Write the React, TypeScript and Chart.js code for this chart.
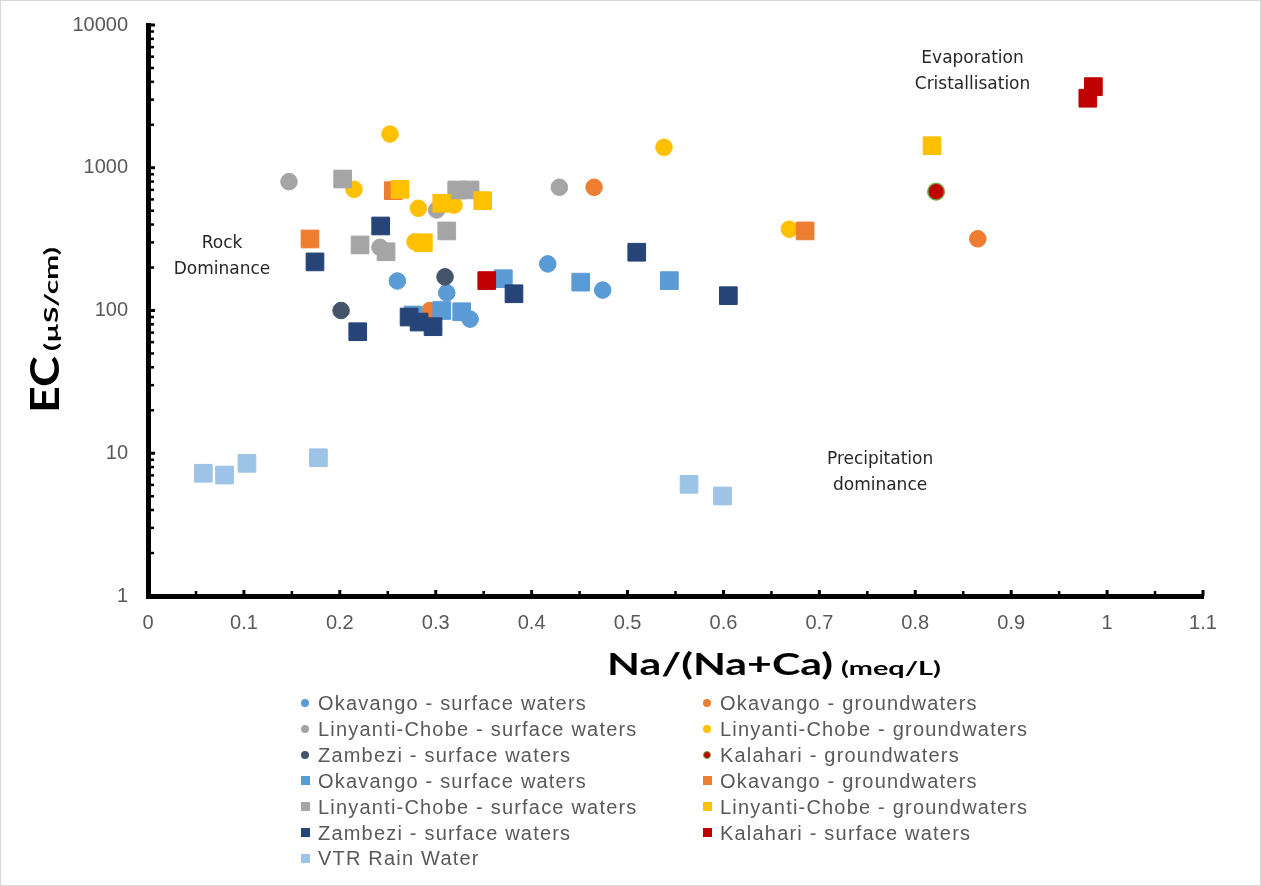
import React, { useEffect, useRef } from 'react';
import { Chart, registerables } from 'chart.js';

Chart.register(...registerables);

// ---- tick values ----
const X_TICKS = [0, 0.1, 0.2, 0.3, 0.4, 0.5, 0.6, 0.7, 0.8, 0.9, 1, 1.1];
const Y_TICKS = [1, 10, 100, 1000, 10000];

// ---- series values: [Na/(Na+Ca), EC] ----
const OKA_SW_CIRCLES: [number, number][] = [[0.26, 161], [0.3115, 133], [0.4168, 212], [0.4741, 139], [0.3358, 87]];
const OKA_GW_CIRCLES: [number, number][] = [[0.294, 100], [0.4651, 730], [0.8652, 318]];
const LIN_SW_CIRCLES: [number, number][] = [[0.147, 799], [0.301, 506], [0.2419, 277], [0.4289, 730]];
const LIN_GW_CIRCLES: [number, number][] = [[0.2523, 1722], [0.2148, 706], [0.2819, 520], [0.3191, 548], [0.2784, 303], [0.538, 1390], [0.6687, 371]];
const ZAM_SW_CIRCLES: [number, number][] = [[0.2013, 100], [0.3097, 172]];
const KAL_GW_CIRCLES: [number, number][] = [[0.8217, 680]];
const OKA_SW_SQUARES: [number, number][] = [[0.2763, 93], [0.3063, 100], [0.3271, 98], [0.3705, 167], [0.4512, 158], [0.5436, 162]];
const OKA_GW_SQUARES: [number, number][] = [[0.1689, 317], [0.2558, 691], [0.6851, 361]];
const LIN_SW_SQUARES: [number, number][] = [[0.203, 834], [0.3219, 699], [0.3358, 699], [0.3115, 361], [0.2211, 288], [0.2482, 258]];
const LIN_GW_SQUARES: [number, number][] = [[0.2628, 706], [0.3063, 564], [0.349, 588], [0.2871, 298], [0.8175, 1427]];
const ZAM_SW_SQUARES: [number, number][] = [[0.1741, 219], [0.2426, 391], [0.2187, 71], [0.2722, 90], [0.2826, 83], [0.2972, 77], [0.3816, 131], [0.5096, 256], [0.6051, 127]];
const KAL_SW_SQUARES: [number, number][] = [[0.3532, 162], [0.9799, 3070], [0.9857, 3700]];
const VTR_RAIN: [number, number][] = [[0.0577, 7.24], [0.0798, 7.04], [0.1032, 8.5], [0.1777, 9.3], [0.5641, 6.06], [0.599, 5.02]];

// ---- series labels ----
const LABELS = [
  'Okavango - surface waters', 'Okavango - groundwaters',
  'Linyanti-Chobe - surface waters', 'Linyanti-Chobe - groundwaters',
  'Zambezi - surface waters', 'Kalahari - groundwaters',
  'Okavango - surface waters', 'Okavango - groundwaters',
  'Linyanti-Chobe - surface waters', 'Linyanti-Chobe - groundwaters',
  'Zambezi - surface waters', 'Kalahari - surface waters',
  'VTR Rain Water',
];
const SERIES_DATA = [
  OKA_SW_CIRCLES, OKA_GW_CIRCLES, LIN_SW_CIRCLES, LIN_GW_CIRCLES, ZAM_SW_CIRCLES, KAL_GW_CIRCLES,
  OKA_SW_SQUARES, OKA_GW_SQUARES, LIN_SW_SQUARES, LIN_GW_SQUARES, ZAM_SW_SQUARES, KAL_SW_SQUARES, VTR_RAIN,
];

// ---- styles ----
const STYLES = [
  { color: '#5B9BD5', shape: 'circle' },
  { color: '#ED7D31', shape: 'circle' },
  { color: '#A5A5A5', shape: 'circle' },
  { color: '#FFC000', shape: 'circle' },
  { color: '#44546A', shape: 'circle' },
  { color: '#C00000', shape: 'circle', border: '#70AD47' },
  { color: '#5B9BD5', shape: 'rect' },
  { color: '#ED7D31', shape: 'rect' },
  { color: '#A5A5A5', shape: 'rect' },
  { color: '#FFC000', shape: 'rect' },
  { color: '#264478', shape: 'rect' },
  { color: '#C00000', shape: 'rect' },
  { color: '#9DC3E6', shape: 'rect' },
];

const ANNOTATIONS = [
  { lines: ['Rock', 'Dominance'], x: 0.0772, y: 274 },
  { lines: ['Evaporation', 'Cristallisation'], x: 0.8597, y: 5417 },
  { lines: ['Precipitation', 'dominance'], x: 0.7633, y: 8.41 },
];

const TICK_FONT = '"Liberation Sans", Arial, sans-serif';

function drawStretched(ctx: CanvasRenderingContext2D, text: string, font: string, width: number) {
  ctx.font = font;
  const w = ctx.measureText(text).width;
  ctx.save();
  ctx.scale(width / w, 1);
  ctx.textAlign = 'left';
  ctx.textBaseline = 'alphabetic';
  ctx.fillText(text, 0, 0);
  ctx.restore();
}

const decorPlugin = {
  id: 'decor',
  beforeDatasetsDraw(chart: any) {
    const { ctx, chartArea, scales } = chart;
    const xs = scales.x;
    const ys = scales.y;
    ctx.save();
    ctx.fillStyle = '#000';
    // y tick marks (inside)
    const ax = chartArea.left;
    Y_TICKS.forEach((v) => {
      const py = ys.getPixelForValue(v);
      ctx.fillRect(ax - 2, py - 1.5, 9, 3);
    });
    for (let i = 0; i < Y_TICKS.length - 1; i++) {
      for (let m = 2; m <= 9; m++) {
        const py = ys.getPixelForValue(Y_TICKS[i] * m);
        ctx.fillRect(ax, py - 1.25, 6, 2.5);
      }
    }
    // x tick marks (inside)
    const ay = chartArea.bottom;
    X_TICKS.forEach((v) => {
      const px = xs.getPixelForValue(v);
      ctx.fillRect(px - 1.5, ay - 6, 3, 6);
    });
    for (let i = 0; i < X_TICKS.length - 1; i++) {
      const px = xs.getPixelForValue((X_TICKS[i] + X_TICKS[i + 1]) / 2);
      ctx.fillRect(px - 1.25, ay - 5, 2.5, 5);
    }
    ctx.restore();
  },
  afterDraw(chart: any) {
    const { ctx, scales } = chart;
    const xs = scales.x;
    const ys = scales.y;
    ctx.save();
    // annotations
    ctx.fillStyle = '#262626';
    ctx.font = '17px "DejaVu Sans", sans-serif';
    ctx.textAlign = 'center';
    ctx.textBaseline = 'alphabetic';
    ANNOTATIONS.forEach((a) => {
      const px = xs.getPixelForValue(a.x);
      const py = ys.getPixelForValue(a.y);
      a.lines.forEach((line, i) => ctx.fillText(line, px, py + i * 26));
    });
    // x axis title
    ctx.fillStyle = '#000';
    ctx.save();
    ctx.translate(607, 675);
    drawStretched(ctx, 'Na/(Na+Ca)', 'bold 31px Lato, "Liberation Sans", sans-serif', 226);
    ctx.restore();
    ctx.save();
    ctx.translate(841, 675);
    drawStretched(ctx, '(meq/L)', 'bold 19px Lato, "Liberation Sans", sans-serif', 100);
    ctx.restore();
    // y axis title (rotated)
    ctx.save();
    ctx.translate(59, 413);
    ctx.rotate(-Math.PI / 2);
    drawStretched(ctx, 'EC', 'bold 40px Lato, "Liberation Sans", sans-serif', 57);
    ctx.restore();
    ctx.save();
    ctx.translate(58, 351);
    ctx.rotate(-Math.PI / 2);
    drawStretched(ctx, '(µS/cm)', 'bold 19px Lato, "Liberation Sans", sans-serif', 104);
    ctx.restore();
    ctx.restore();
  },
};

export default function App() {
  const canvasRef = useRef<HTMLCanvasElement | null>(null);

  useEffect(() => {
    const canvas = canvasRef.current;
    if (!canvas) return;
    const n = SERIES_DATA.length;
    const datasets = SERIES_DATA.map((pts, i) => {
      const st = STYLES[i];
      const isCircle = st.shape === 'circle';
      return {
        label: LABELS[i],
        data: pts.map(([x, y]) => ({ x, y })),
        pointStyle: st.shape,
        pointRadius: isCircle ? 8.3 : 12.5,
        pointHoverRadius: isCircle ? 8.3 : 12.5,
        backgroundColor: st.color,
        borderColor: st.border || st.color,
        borderWidth: st.border ? 1.5 : 1,
        order: n - i,
        showLine: false,
      };
    });
    const chart = new Chart(canvas, {
      type: 'scatter',
      data: { datasets } as any,
      options: {
        animation: false,
        responsive: false,
        events: [],
        layout: { padding: { left: 0, top: 25, right: 58, bottom: 226 } },
        plugins: { legend: { display: false }, tooltip: { enabled: false } },
        scales: {
          x: {
            type: 'linear',
            min: 0,
            max: 1.1,
            afterBuildTicks: (s: any) => { s.ticks = X_TICKS.map((v) => ({ value: v })); },
            afterFit: (s: any) => { s.height = 64; },
            grid: { display: false, drawTicks: false },
            border: { display: true, color: '#000', width: 5 },
            ticks: {
              padding: 15,
              color: '#595959',
              font: { family: TICK_FONT, size: 20 },
              autoSkip: false,
              maxRotation: 0,
              callback: (v: any) => String(Number(Number(v).toFixed(1))),
            },
          },
          y: {
            type: 'logarithmic',
            min: 1,
            max: 10000,
            afterBuildTicks: (s: any) => { s.ticks = Y_TICKS.map((v) => ({ value: v })); },
            afterFit: (s: any) => { s.width = 148; s.paddingTop = 12; s.paddingBottom = 12; },
            grid: { display: false, drawTicks: false },
            border: { display: true, color: '#000', width: 5 },
            ticks: {
              padding: 20,
              color: '#595959',
              font: { family: TICK_FONT, size: 20 },
              autoSkip: false,
              callback: (v: any) => String(v),
            },
          },
        },
      } as any,
      plugins: [decorPlugin as any],
    });
    return () => chart.destroy();
  }, []);

  const rowTop = 703;
  const rowStep = 25.9;
  const colMarker = [305, 707];

  return (
    <div style={{ position: 'absolute', left: 0, top: 0, width: 1261, height: 886, background: '#fff' }}>
      <canvas ref={canvasRef} width={1261} height={886} style={{ display: 'block', width: 1261, height: 886 }} />
      {LABELS.map((label, k) => {
        const st = STYLES[k];
        const row = Math.floor(k / 2);
        const col = k % 2;
        const cy = rowTop + row * rowStep;
        const isCircle = st.shape === 'circle';
        const size = isCircle ? 8 : 9;
        return (
          <div
            key={k}
            style={{
              position: 'absolute',
              left: colMarker[col] - 5,
              top: cy - 13,
              height: 26,
              display: 'flex',
              alignItems: 'center',
              whiteSpace: 'nowrap',
            }}
          >
            <span style={{ width: 10, height: 10, display: 'flex', alignItems: 'center', justifyContent: 'center' }}>
              <span
                style={{
                  width: size,
                  height: size,
                  boxSizing: 'border-box',
                  background: st.color,
                  borderRadius: isCircle ? '50%' : 0,
                  border: st.border ? `1.5px solid ${st.border}` : 'none',
                  display: 'block',
                }}
              />
            </span>
            <span
              style={{
                marginLeft: 8,
                font: `20px ${TICK_FONT}`,
                letterSpacing: '1.2px',
                color: '#595959',
                lineHeight: '26px',
              }}
            >
              {label}
            </span>
          </div>
        );
      })}
      <div
        style={{
          position: 'absolute',
          left: 0,
          top: 0,
          width: 1261,
          height: 886,
          boxSizing: 'border-box',
          border: '1px solid #d9d9d9',
          pointerEvents: 'none',
        }}
      />
    </div>
  );
}
